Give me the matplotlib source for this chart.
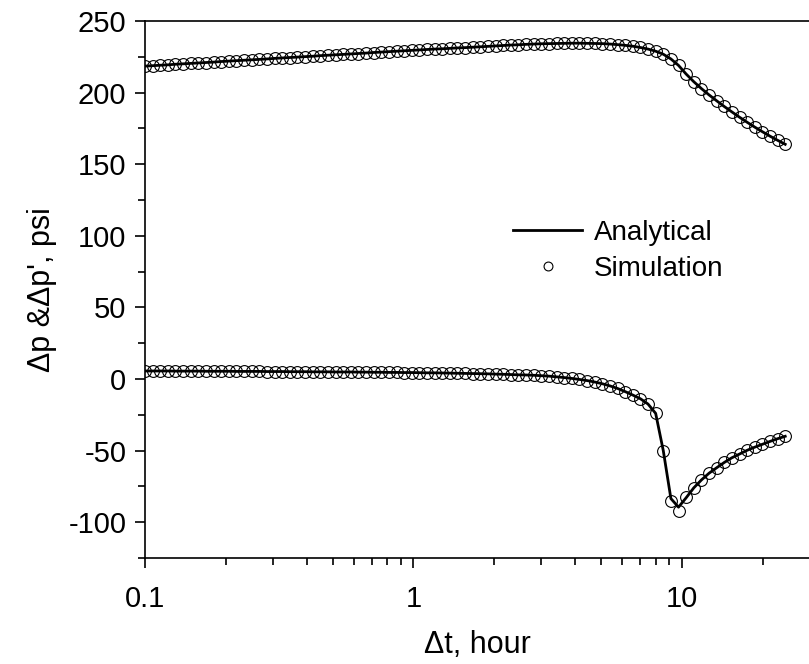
import numpy as np
import matplotlib
matplotlib.use('Agg')
import matplotlib.pyplot as plt
from matplotlib.ticker import FixedLocator, LogLocator, MultipleLocator, FuncFormatter

plt.rcParams['font.family'] = ['Liberation Sans', 'DejaVu Sans']
plt.rcParams['axes.unicode_minus'] = False

# shut-in time, hour (same sampling for both curves)
dt = [0.1000, 0.1068, 0.1140, 0.1217, 0.1299, 0.1387, 0.1481, 0.1581, 0.1688, 0.1802,
      0.1923, 0.2053, 0.2192, 0.2340, 0.2498, 0.2667, 0.2847, 0.3040, 0.3245, 0.3464,
      0.3698, 0.3948, 0.4215, 0.4500, 0.4804, 0.5129, 0.5475, 0.5845, 0.6240, 0.6662,
      0.7112, 0.7592, 0.8105, 0.8653, 0.9238, 0.9863, 1.053, 1.124, 1.200, 1.281,
      1.368, 1.460, 1.559, 1.664, 1.777, 1.897, 2.025, 2.162, 2.308, 2.464,
      2.630, 2.808, 2.998, 3.200, 3.417, 3.648, 3.894, 4.157, 4.438, 4.738,
      5.058, 5.400, 5.765, 6.154, 6.570, 7.015, 7.489, 7.995, 8.535, 9.112,
      9.727, 10.38, 11.09, 11.84, 12.64, 13.49, 14.40, 15.38, 16.42, 17.52,
      18.71, 19.97, 21.32, 22.76, 24.30]

# pressure change, psi
dp_sim = [218.5, 218.8, 219.1, 219.4, 219.8, 220.1, 220.4, 220.7, 221.0, 221.3,
          221.7, 222.0, 222.3, 222.6, 222.9, 223.2, 223.5, 223.9, 224.2, 224.5,
          224.8, 225.1, 225.4, 225.8, 226.1, 226.4, 226.7, 227.0, 227.3, 227.6,
          228.0, 228.3, 228.6, 228.9, 229.2, 229.5, 229.8, 230.1, 230.4, 230.6,
          230.9, 231.2, 231.4, 231.7, 232.0, 232.3, 232.6, 232.9, 233.2, 233.4,
          233.7, 233.9, 234.1, 234.2, 234.3, 234.4, 234.5, 234.5, 234.4, 234.3,
          234.2, 233.9, 233.5, 233.0, 232.4, 231.5, 230.4, 228.9, 226.8, 223.5,
          219.0, 213.0, 207.6, 202.8, 198.4, 194.3, 190.3, 186.5, 182.8, 179.3,
          175.9, 172.7, 169.6, 166.7, 163.9]

# pressure derivative, psi
dpd_sim = [5.6, 5.6, 5.6, 5.6, 5.5, 5.5, 5.5, 5.5, 5.4, 5.4,
           5.4, 5.4, 5.3, 5.3, 5.3, 5.3, 5.2, 5.2, 5.2, 5.1,
           5.1, 5.1, 5.0, 5.0, 5.0, 4.9, 4.9, 4.9, 4.8, 4.8,
           4.7, 4.7, 4.6, 4.6, 4.5, 4.5, 4.4, 4.3, 4.3, 4.2,
           4.1, 4.0, 3.9, 3.8, 3.7, 3.6, 3.4, 3.3, 3.1, 2.9,
           2.8, 2.6, 2.3, 2.0, 1.5, 1.0, 0.4, -0.3, -1.1, -2.1,
           -3.3, -4.8, -6.6, -8.8, -11.2, -13.8, -17.5, -24.0, -50.0, -85.0,
           -92.0, -82.5, -76.0, -70.5, -65.8, -62.0, -58.3, -55.0, -52.4, -49.8,
           -47.6, -45.6, -43.6, -41.7, -40.0]

# analytical solution: identical to simulation except around the derivative dip
dp_ana = list(dp_sim)
dpd_ana = list(dpd_sim)
dpd_ana[69:72] = [-83.5, -89.5, -83.0]

fig = plt.figure(figsize=(8.09, 6.64), dpi=100)
ax = fig.add_axes([145/809, 1-558/664, 1-145/809, (558-21)/664])

ax.plot(dt, dp_ana, color='k', lw=2.0, label='Analytical', zorder=3)
ax.plot(dt, dpd_ana, color='k', lw=2.0, zorder=3)
ax.plot(dt, dp_sim, ls='none', marker='o', ms=8.5, mfc='none', mec='k', mew=0.8,
        label='Simulation', zorder=2)
ax.plot(dt, dpd_sim, ls='none', marker='o', ms=8.5, mfc='none', mec='k', mew=0.8, zorder=2)

ax.set_xscale('log')
ax.set_xlim(0.1, 29.8)
ax.set_ylim(-125, 250)

ax.xaxis.set_major_locator(FixedLocator([0.1, 1, 10]))
ax.xaxis.set_major_formatter(FuncFormatter(lambda v, p: '%g' % v))
ax.xaxis.set_minor_locator(LogLocator(base=10, subs=np.arange(2, 10)))
ax.xaxis.set_minor_formatter(FuncFormatter(lambda v, p: ''))
ax.yaxis.set_major_locator(MultipleLocator(50))
ax.yaxis.set_minor_locator(MultipleLocator(25))

ax.spines['right'].set_visible(False)
for s in ['left', 'bottom', 'top']:
    ax.spines[s].set_linewidth(1.2)

ax.tick_params(which='major', direction='out', length=7.5, width=1.2, labelsize=21)
ax.tick_params(which='minor', direction='out', length=5, width=1.2)
ax.tick_params(axis='x', which='major', pad=12)
ax.tick_params(axis='y', which='major', pad=6)
ax.tick_params(top=False, right=False, which='both')

ax.set_xlabel('\u0394t, hour', fontsize=22, labelpad=12)
ax.set_ylabel("\u0394p &\u0394p', psi", fontsize=22, labelpad=8)

ax.legend(loc='center left', bbox_to_anchor=(513/809, 1-251/664), bbox_transform=fig.transFigure,
          frameon=False, fontsize=20, handlelength=2.5, handletextpad=0.4,
          labelspacing=0.35, borderpad=0, borderaxespad=0, markerscale=0.75)

fig.savefig('out.png', dpi=100)
